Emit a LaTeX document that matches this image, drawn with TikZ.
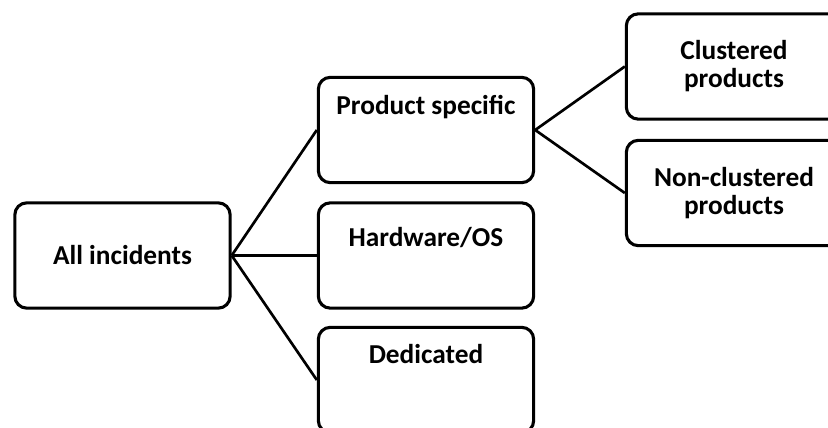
\documentclass[tikz,border=0pt]{standalone}
\usepackage{fontspec}
\setmainfont{Carlito}
\usetikzlibrary{positioning}

\begin{document}
\begin{tikzpicture}[
    x=0.75pt, y=0.75pt,
    box/.style={draw, line width=2.3pt, rounded corners=9pt, minimum width=161.5pt, minimum height=79pt, align=center, font=\bfseries\fontsize{20.5}{21}\selectfont},
    topbox/.style={box, inner ysep=0pt, text height=#1, text depth=79pt-#1},
    link/.style={line width=2pt}
  ]
    \useasboundingbox (0,0) rectangle (828,428);
    \clip (0,0) rectangle (828,428);

    % Root
    \node[box] (all) at (122.5,172.5) {All incidents};

    % Incident groups
    \node[topbox=28pt] (product) at (426,298) {Product specific};
    \node[topbox=32.5pt] (hardware) at (426,172.5) {Hardware/OS};
    \node[topbox=27.5pt] (dedicated) at (426,48) {Dedicated};

    % Product split
    \node[box] (clustered) at (734,361.5) {Clustered\\products};
    \node[box] (nonclustered) at (734,235) {Non-clustered\\products};

    % Links
    \draw[link] (all.east) -- (product.west);
    \draw[link] (all.east) -- (hardware.west);
    \draw[link] (all.east) -- (dedicated.west);
    \draw[link] (product.east) -- (clustered.west);
    \draw[link] (product.east) -- (nonclustered.west);
  \end{tikzpicture}
\end{document}
